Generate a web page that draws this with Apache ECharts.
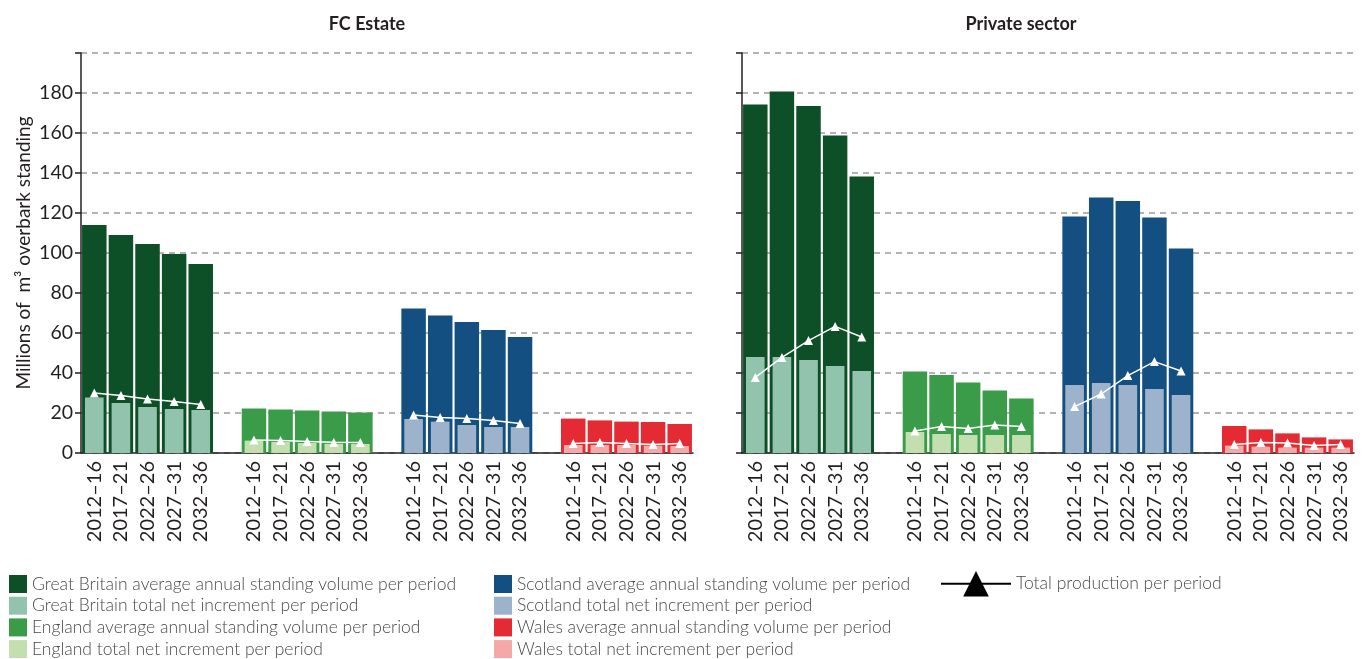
<!DOCTYPE html>
<html><head><meta charset="utf-8">
<script src="https://cdn.jsdelivr.net/npm/echarts@6/dist/echarts.min.js"></script>
<style>html,body{margin:0;padding:0;background:#fff}#c{width:1363px;height:659px}</style>
</head><body><div id="c"></div>
<script>
const periods = ['2012–16','2017–21','2022–26','2027–31','2032–36'];
const countries = ['Great Britain','England','Scotland','Wales'];
const panelTitles = ['FC Estate','Private sector'];
const yAxisName = 'Millions of  m³ overbark standing';

// FC Estate
const fcGBVolume = [114, 109, 104.5, 99.5, 94.5];
const fcGBIncrement = [27.7, 25, 23, 22, 21.5];
const fcGBProduction = [30, 28.7, 27, 25.8, 24.3];
const fcEngVolume = [22.3, 21.8, 21.2, 20.7, 20.2];
const fcEngIncrement = [6.2, 5.5, 5, 4.6, 4.5];
const fcEngProduction = [6.5, 6.2, 5.8, 5.4, 5.2];
const fcScoVolume = [72.2, 68.7, 65.5, 61.5, 58];
const fcScoIncrement = [17, 15.7, 14, 13, 13];
const fcScoProduction = [19, 17.8, 17.2, 16.3, 14.8];
const fcWalVolume = [17.2, 16.3, 15.7, 15.5, 14.5];
const fcWalIncrement = [4, 4, 4, 3.7, 3.5];
const fcWalProduction = [4.8, 5.2, 4.7, 4.2, 4.7];

// Private sector
const psGBVolume = [174.3, 180.7, 173.5, 158.7, 138.3];
const psGBIncrement = [48, 48, 46.5, 43.5, 41];
const psGBProduction = [37.8, 47.8, 56.2, 63.3, 58];
const psEngVolume = [40.7, 39, 35.3, 31.3, 27.3];
const psEngIncrement = [10.5, 9.5, 9, 9, 9];
const psEngProduction = [11, 13.2, 12.2, 14, 13.2];
const psScoVolume = [118.3, 127.8, 126, 117.7, 102.3];
const psScoIncrement = [34, 35, 34, 32, 29];
const psScoProduction = [23.2, 29.5, 38.7, 45.7, 41];
const psWalVolume = [13.5, 11.8, 9.8, 7.8, 6.8];
const psWalIncrement = [3.7, 3.2, 2.7, 2.7, 2.7];
const psWalProduction = [4.3, 5.3, 5, 3.7, 4.2];

const darkColors = ['#0d4f27', '#3a9c48', '#134f80', '#e42b33'];
const lightColors = ['#92c4ad', '#c3dfb0', '#9db3cb', '#f4a9a8'];

const panels = [
  {vol:[fcGBVolume, fcEngVolume, fcScoVolume, fcWalVolume],
   inc:[fcGBIncrement, fcEngIncrement, fcScoIncrement, fcWalIncrement],
   prod:[fcGBProduction, fcEngProduction, fcScoProduction, fcWalProduction]},
  {vol:[psGBVolume, psEngVolume, psScoVolume, psWalVolume],
   inc:[psGBIncrement, psEngIncrement, psScoIncrement, psWalIncrement],
   prod:[psGBProduction, psEngProduction, psScoProduction, psWalProduction]}
];

// categories: 4 groups of periods separated by an empty slot
const categories = [];
countries.forEach((c, g) => {
  periods.forEach(p => categories.push(p));
  if (g < countries.length - 1) categories.push('');
});
const slot = (g, i) => g * (periods.length + 1) + i;
function place(g, values) {
  const arr = categories.map(() => null);
  values.forEach((v, i) => { arr[slot(g, i)] = v; });
  return arr;
}
function placeAll(list) {
  const arr = categories.map(() => null);
  list.forEach((values, g) => values.forEach((v, i) => { arr[slot(g, i)] = v; }));
  return arr;
}

const FONT = 'Lato';
const TXT = '#231f20';
const gridLeft = [81, 742];
const titleCenters = [367, 1021];

const grids = gridLeft.map(l => ({left: l, top: 53, width: 612, height: 400}));
const xAxes = [], yAxes = [], series = [];
gridLeft.forEach((l, p) => {
  xAxes.push({
    type: 'category', gridIndex: p, data: categories,
    axisLine: {lineStyle: {color: '#231f20', width: 1.5}},
    axisTick: {interval: 0, length: 6, lineStyle: {color: '#231f20', width: 1.5}},
    axisLabel: {interval: 0, rotate: 90, fontFamily: FONT, fontSize: 20, color: TXT, margin: 8},
    splitLine: {show: false}
  });
  xAxes.push({type: 'category', gridIndex: p, data: categories, show: false});
  yAxes.push({
    type: 'value', gridIndex: p, min: 0, max: 200, interval: 20,
    name: p === 0 ? yAxisName : '', nameLocation: 'middle', nameGap: 48, nameRotate: 90,
    nameTextStyle: {fontFamily: FONT, fontSize: 19, color: TXT},
    axisLine: {show: true, lineStyle: {color: '#231f20', width: 1.5}},
    axisTick: {show: true, length: 6, lineStyle: {color: '#231f20', width: 1.5}},
    axisLabel: {show: p === 0, fontFamily: FONT, fontSize: 19.5, color: TXT, margin: 8,
      formatter: v => (v === 200 ? '' : String(v))},
    splitLine: {show: true, lineStyle: {color: '#9a9a9a', type: [6, 5], width: 1.5}}
  });
  const d = panels[p];
  countries.forEach((c, g) => {
    series.push({
      name: c + ' average annual standing volume per period', type: 'bar',
      xAxisIndex: p * 2, yAxisIndex: p, data: place(g, d.vol[g]),
      barWidth: '92%', barGap: '-100%', z: 2,
      itemStyle: {color: darkColors[g]}
    });
    series.push({
      name: c + ' total net increment per period', type: 'bar',
      xAxisIndex: p * 2 + 1, yAxisIndex: p, data: place(g, d.inc[g]),
      barWidth: '70%', barGap: '-100%', z: 3,
      itemStyle: {color: lightColors[g]}
    });
  });
  series.push({
    name: 'Total production per period', type: 'line',
    xAxisIndex: p * 2, yAxisIndex: p, data: placeAll(d.prod),
    connectNulls: false, symbol: 'triangle', symbolSize: 9, z: 5,
    lineStyle: {color: '#ffffff', width: 1.5},
    itemStyle: {color: '#ffffff'}
  });
});

const legendText = {fontFamily: FONT, fontSize: 17.5, color: '#4a4a4a', fontWeight: 300};
const legends = [
  {left: 9, top: 575, height: 90, padding: 0, orient: 'vertical', itemWidth: 18, itemHeight: 18, itemGap: 3.7,
   icon: 'rect', selectedMode: false, textStyle: legendText,
   data: ['Great Britain average annual standing volume per period', 'Great Britain total net increment per period',
          'England average annual standing volume per period', 'England total net increment per period']},
  {left: 494, top: 575, height: 90, padding: 0, orient: 'vertical', itemWidth: 18, itemHeight: 18, itemGap: 3.7,
   icon: 'rect', selectedMode: false, textStyle: legendText,
   data: ['Scotland average annual standing volume per period', 'Scotland total net increment per period',
          'Wales average annual standing volume per period', 'Wales total net increment per period']},
  {left: 940, top: 571, padding: 0, orient: 'vertical', itemWidth: 70, itemHeight: 32,
   selectedMode: false, textStyle: legendText,
   data: [{name: 'Total production per period', itemStyle: {color: '#000'}, lineStyle: {color: '#000', width: 2}}]}
];

const chart = echarts.init(document.getElementById('c'), null, {renderer: 'canvas'});
chart.setOption({
  animation: false,
  backgroundColor: '#fff',
  title: panelTitles.map((t, p) => ({
    text: t, left: titleCenters[p], top: 15, textAlign: 'center', padding: 0,
    textStyle: {fontFamily: FONT, fontWeight: 'bold', fontSize: 18, color: TXT}
  })),
  grid: grids,
  xAxis: xAxes,
  yAxis: yAxes,
  legend: legends,
  series: series
});
</script></body></html>
